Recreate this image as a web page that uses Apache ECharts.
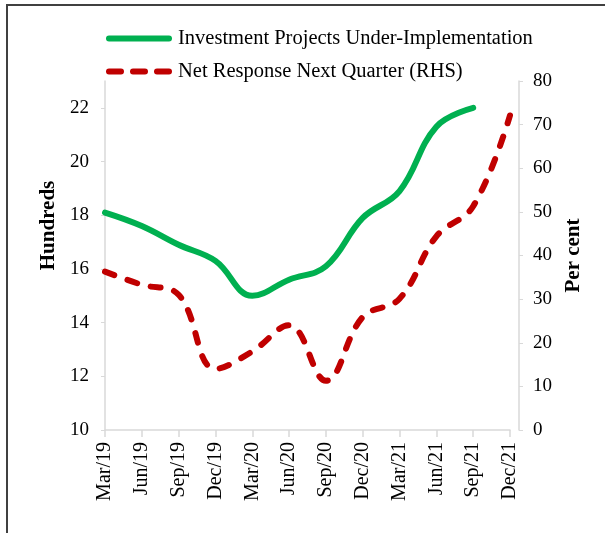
<!DOCTYPE html>
<html>
<head>
<meta charset="utf-8">
<script src="https://cdn.jsdelivr.net/npm/echarts@6/dist/echarts.min.js"></script>
<style>
  html, body { margin: 0; padding: 0; background: #fff; }
  #chart { width: 605px; height: 533px; }
</style>
</head>
<body>
<div id="chart"></div>
<script>
// quarters on the x axis
const categories = ['Mar/19', 'Jun/19', 'Sep/19', 'Dec/19', 'Mar/20', 'Jun/20',
  'Sep/20', 'Dec/20', 'Mar/21', 'Jun/21', 'Sep/21', 'Dec/21'];

// left axis, hundreds (no value yet for Dec/21)
const projects = [18.1, 17.6, 16.9, 16.3, 15.0, 15.6, 16.1, 17.9, 18.9, 21.3, 22.0, null];

// right axis, per cent
const netResponse = [36.3, 33.3, 31.0, 14.0, 18.0, 24.0, 11.3, 25.9, 30.1, 44.4, 51.3, 72.1];

const font = 'Liberation Serif';
const axisGrey = '#d9d9d9';

// legend icons: a solid bar and three rounded dashes
const solidIcon = 'path://M3,0 H63 A3,3 0 0 1 63,6 H3 A3,3 0 0 1 3,0 Z';
const dashIcon = 'path://M3,0 H15 A3,3 0 0 1 15,6 H3 A3,3 0 0 1 3,0 Z ' +
  'M27,0 H39 A3,3 0 0 1 39,6 H27 A3,3 0 0 1 27,0 Z ' +
  'M51,0 H63 A3,3 0 0 1 63,6 H51 A3,3 0 0 1 51,0 Z';

const chart = echarts.init(document.getElementById('chart'));

chart.setOption({
  animation: false,
  textStyle: { fontFamily: font, color: '#000' },
  graphic: [
    // frame lines at the top and left edge of the picture
    { type: 'line', shape: { x1: 6, y1: 5, x2: 605, y2: 5 }, style: { stroke: '#404040', lineWidth: 2 } },
    { type: 'line', shape: { x1: 7, y1: 5, x2: 7, y2: 533 }, style: { stroke: '#404040', lineWidth: 2 } }
  ],
  legend: {
    orient: 'vertical',
    left: 101,
    top: 23,
    itemWidth: 68,
    itemHeight: 6,
    itemGap: 12,
    textStyle: { fontFamily: font, fontSize: 20.5, color: '#000' },
    data: [
      { name: 'Investment Projects Under-Implementation', icon: solidIcon, itemStyle: { color: '#00b050' } },
      { name: 'Net Response Next Quarter (RHS)', icon: dashIcon, itemStyle: { color: '#c00000' } }
    ]
  },
  grid: { left: 105, right: 95, top: 81, bottom: 103 },
  xAxis: {
    type: 'category',
    data: categories,
    boundaryGap: false,
    axisLine: { lineStyle: { color: axisGrey, width: 1.5 } },
    axisTick: { length: 7, lineStyle: { color: axisGrey, width: 1.5 } },
    axisLabel: { rotate: 90, margin: 12, fontSize: 20, color: '#000', fontFamily: font, interval: 0 }
  },
  yAxis: [
    {
      type: 'value',
      min: 10,
      max: 23,
      interval: 2,
      name: 'Hundreds',
      nameLocation: 'middle',
      nameGap: 44,
      nameTextStyle: { fontSize: 21, fontWeight: 'bold', fontFamily: font, color: '#000', padding: [0, 0, 0, 60] },
      splitLine: { show: false },
      axisLine: { show: true, lineStyle: { color: axisGrey, width: 1.5 } },
      axisTick: { show: true, length: 4, lineStyle: { color: axisGrey } },
      axisLabel: { fontSize: 19, color: '#000', fontFamily: font, margin: 16, showMaxLabel: false }
    },
    {
      type: 'value',
      min: 0,
      max: 80,
      interval: 10,
      position: 'right',
      offset: 9,
      name: 'Per cent',
      nameLocation: 'middle',
      nameGap: 44,
      nameTextStyle: { fontSize: 21, fontWeight: 'bold', fontFamily: font, color: '#000' },
      splitLine: { show: false },
      axisLine: { show: true, lineStyle: { color: axisGrey, width: 1.5 } },
      axisTick: { show: true, length: 4, lineStyle: { color: axisGrey } },
      axisLabel: { fontSize: 19, color: '#000', fontFamily: font, margin: 14 }
    }
  ],
  series: [
    {
      name: 'Investment Projects Under-Implementation',
      type: 'line',
      yAxisIndex: 0,
      data: projects,
      smooth: 0.4,
      symbol: 'none',
      itemStyle: { color: '#00b050' },
      lineStyle: { color: '#00b050', width: 6, cap: 'round' }
    },
    {
      name: 'Net Response Next Quarter (RHS)',
      type: 'line',
      yAxisIndex: 1,
      data: netResponse,
      smooth: 0.4,
      symbol: 'none',
      itemStyle: { color: '#c00000' },
      lineStyle: { color: '#c00000', width: 6, type: [10, 14], cap: 'round' }
    }
  ]
});
</script>
</body>
</html>
